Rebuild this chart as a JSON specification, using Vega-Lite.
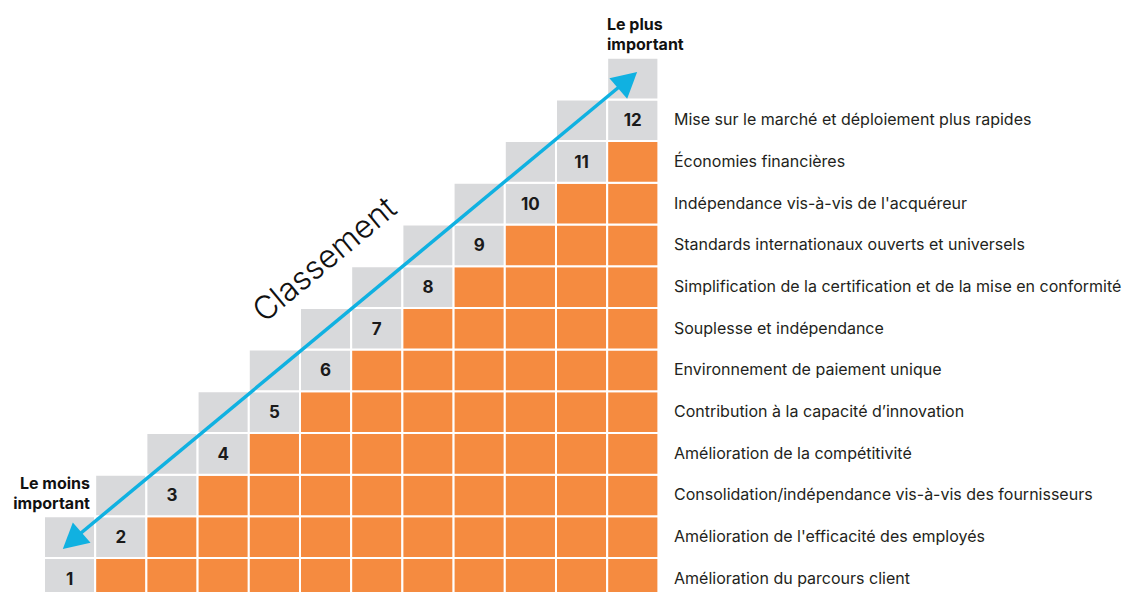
{
  "$schema": "https://vega.github.io/schema/vega-lite/v6.json",
  "width": 1130,
  "height": 600,
  "autosize": "none",
  "padding": 0,
  "background": "white",
  "config": {"view": {"stroke": null}, "font": "Inter"},
  "datasets": {
    "cells": [
      {"c":1,"r":1,"t":"g"},{"c":1,"r":2,"t":"g"},
      {"c":2,"r":1,"t":"o"},{"c":2,"r":2,"t":"g"},{"c":2,"r":3,"t":"g"},
      {"c":3,"r":1,"t":"o"},{"c":3,"r":2,"t":"o"},{"c":3,"r":3,"t":"g"},{"c":3,"r":4,"t":"g"},
      {"c":4,"r":1,"t":"o"},{"c":4,"r":2,"t":"o"},{"c":4,"r":3,"t":"o"},{"c":4,"r":4,"t":"g"},{"c":4,"r":5,"t":"g"},
      {"c":5,"r":1,"t":"o"},{"c":5,"r":2,"t":"o"},{"c":5,"r":3,"t":"o"},{"c":5,"r":4,"t":"o"},{"c":5,"r":5,"t":"g"},{"c":5,"r":6,"t":"g"},
      {"c":6,"r":1,"t":"o"},{"c":6,"r":2,"t":"o"},{"c":6,"r":3,"t":"o"},{"c":6,"r":4,"t":"o"},{"c":6,"r":5,"t":"o"},{"c":6,"r":6,"t":"g"},{"c":6,"r":7,"t":"g"},
      {"c":7,"r":1,"t":"o"},{"c":7,"r":2,"t":"o"},{"c":7,"r":3,"t":"o"},{"c":7,"r":4,"t":"o"},{"c":7,"r":5,"t":"o"},{"c":7,"r":6,"t":"o"},{"c":7,"r":7,"t":"g"},{"c":7,"r":8,"t":"g"},
      {"c":8,"r":1,"t":"o"},{"c":8,"r":2,"t":"o"},{"c":8,"r":3,"t":"o"},{"c":8,"r":4,"t":"o"},{"c":8,"r":5,"t":"o"},{"c":8,"r":6,"t":"o"},{"c":8,"r":7,"t":"o"},{"c":8,"r":8,"t":"g"},{"c":8,"r":9,"t":"g"},
      {"c":9,"r":1,"t":"o"},{"c":9,"r":2,"t":"o"},{"c":9,"r":3,"t":"o"},{"c":9,"r":4,"t":"o"},{"c":9,"r":5,"t":"o"},{"c":9,"r":6,"t":"o"},{"c":9,"r":7,"t":"o"},{"c":9,"r":8,"t":"o"},{"c":9,"r":9,"t":"g"},{"c":9,"r":10,"t":"g"},
      {"c":10,"r":1,"t":"o"},{"c":10,"r":2,"t":"o"},{"c":10,"r":3,"t":"o"},{"c":10,"r":4,"t":"o"},{"c":10,"r":5,"t":"o"},{"c":10,"r":6,"t":"o"},{"c":10,"r":7,"t":"o"},{"c":10,"r":8,"t":"o"},{"c":10,"r":9,"t":"o"},{"c":10,"r":10,"t":"g"},{"c":10,"r":11,"t":"g"},
      {"c":11,"r":1,"t":"o"},{"c":11,"r":2,"t":"o"},{"c":11,"r":3,"t":"o"},{"c":11,"r":4,"t":"o"},{"c":11,"r":5,"t":"o"},{"c":11,"r":6,"t":"o"},{"c":11,"r":7,"t":"o"},{"c":11,"r":8,"t":"o"},{"c":11,"r":9,"t":"o"},{"c":11,"r":10,"t":"o"},{"c":11,"r":11,"t":"g"},{"c":11,"r":12,"t":"g"},
      {"c":12,"r":1,"t":"o"},{"c":12,"r":2,"t":"o"},{"c":12,"r":3,"t":"o"},{"c":12,"r":4,"t":"o"},{"c":12,"r":5,"t":"o"},{"c":12,"r":6,"t":"o"},{"c":12,"r":7,"t":"o"},{"c":12,"r":8,"t":"o"},{"c":12,"r":9,"t":"o"},{"c":12,"r":10,"t":"o"},{"c":12,"r":11,"t":"o"},{"c":12,"r":12,"t":"g"},{"c":12,"r":13,"t":"g"}
    ],
    "ranks": [
      {"c":1},{"c":2},{"c":3},{"c":4},{"c":5},{"c":6},{"c":7},{"c":8},{"c":9},{"c":10},{"c":11},{"c":12}
    ],
    "labels": [
      {"r":1,"label":"Amélioration du parcours client"},
      {"r":2,"label":"Amélioration de l'efficacité des employés"},
      {"r":3,"label":"Consolidation/indépendance vis-à-vis des fournisseurs"},
      {"r":4,"label":"Amélioration de la compétitivité"},
      {"r":5,"label":"Contribution à la capacité d’innovation"},
      {"r":6,"label":"Environnement de paiement unique"},
      {"r":7,"label":"Souplesse et indépendance"},
      {"r":8,"label":"Simplification de la certification et de la mise en conformité"},
      {"r":9,"label":"Standards internationaux ouverts et universels"},
      {"r":10,"label":"Indépendance vis-à-vis de l'acquéreur"},
      {"r":11,"label":"Économies financières"},
      {"r":12,"label":"Mise sur le marché et déploiement plus rapides"}
    ]
  },
  "layer": [
    {
      "data": {"name": "cells"},
      "mark": {"type": "rect", "width": 51.2, "height": 41.69, "stroke": "white", "strokeWidth": 2},
      "encoding": {
        "x": {"field": "c", "type": "quantitative", "scale": {"domain": [-0.359, 21.711], "nice": false, "zero": false}, "axis": null},
        "y": {"field": "r", "type": "quantitative", "scale": {"domain": [0.4929, 14.885], "nice": false, "zero": false}, "axis": null},
        "color": {"field": "t", "type": "nominal", "scale": {"domain": ["o", "g"], "range": ["#F58B40", "#D8D9DB"]}, "legend": null}
      }
    },
    {
      "data": {"name": "ranks"},
      "mark": {"type": "text", "font": "Inter", "fontWeight": "bold", "fontSize": 17, "color": "#1a1a1a", "align": "center", "baseline": "middle", "dy": 1},
      "encoding": {
        "x": {"field": "c", "type": "quantitative", "scale": {"domain": [-0.359, 21.711], "nice": false, "zero": false}, "axis": null},
        "y": {"field": "c", "type": "quantitative", "scale": {"domain": [0.4929, 14.885], "nice": false, "zero": false}, "axis": null},
        "text": {"field": "c", "type": "quantitative"}
      }
    },
    {
      "data": {"name": "labels"},
      "mark": {"type": "text", "font": "Inter", "fontSize": 16, "color": "#231F20", "align": "left", "baseline": "middle"},
      "encoding": {
        "x": {"datum": 12.805, "type": "quantitative", "scale": {"domain": [-0.359, 21.711], "nice": false, "zero": false}, "axis": null},
        "y": {"field": "r", "type": "quantitative", "scale": {"domain": [0.4929, 14.885], "nice": false, "zero": false}, "axis": null},
        "text": {"field": "label", "type": "nominal"}
      }
    },
    {
      "data": {"values": [{"x": 1.105, "y": 1.98}, {"x": 11.848, "y": 12.918}]},
      "mark": {"type": "line", "color": "#10B1E1", "strokeWidth": 3.5},
      "encoding": {
        "x": {"field": "x", "type": "quantitative", "scale": {"domain": [-0.359, 21.711], "nice": false, "zero": false}, "axis": null},
        "y": {"field": "y", "type": "quantitative", "scale": {"domain": [0.4929, 14.885], "nice": false, "zero": false}, "axis": null}
      }
    },
    {
      "data": {"values": [{"x": 11.901, "y": 12.959}]},
      "mark": {"type": "point", "shape": "M0,-1L1.08,1L-1.08,1Z", "filled": true, "opacity": 1, "size": 625, "angle": 49, "color": "#10B1E1"},
      "encoding": {
        "x": {"field": "x", "type": "quantitative", "scale": {"domain": [-0.359, 21.711], "nice": false, "zero": false}, "axis": null},
        "y": {"field": "y", "type": "quantitative", "scale": {"domain": [0.4929, 14.885], "nice": false, "zero": false}, "axis": null}
      }
    },
    {
      "data": {"values": [{"x": 1.052, "y": 1.913}]},
      "mark": {"type": "point", "shape": "M0,-1L1.08,1L-1.08,1Z", "filled": true, "opacity": 1, "size": 625, "angle": 229, "color": "#10B1E1"},
      "encoding": {
        "x": {"field": "x", "type": "quantitative", "scale": {"domain": [-0.359, 21.711], "nice": false, "zero": false}, "axis": null},
        "y": {"field": "y", "type": "quantitative", "scale": {"domain": [0.4929, 14.885], "nice": false, "zero": false}, "axis": null}
      }
    },
    {
      "data": {"values": [{"x": 5.988, "y": 8.648, "t": "Classement"}]},
      "mark": {"type": "text", "font": "Inter", "fontWeight": 300, "fontSize": 32, "color": "#111111", "align": "center", "baseline": "middle", "angle": 320.3},
      "encoding": {
        "x": {"field": "x", "type": "quantitative", "scale": {"domain": [-0.359, 21.711], "nice": false, "zero": false}, "axis": null},
        "y": {"field": "y", "type": "quantitative", "scale": {"domain": [0.4929, 14.885], "nice": false, "zero": false}, "axis": null},
        "text": {"field": "t", "type": "nominal"}
      }
    },
    {
      "data": {"values": [{"x": 1.398, "y": 3.155, "t": "Le moins\nimportant"}]},
      "mark": {"type": "text", "font": "Inter", "fontWeight": "bold", "fontSize": 16, "color": "#111111", "align": "right", "baseline": "alphabetic", "lineBreak": "\n", "lineHeight": 20},
      "encoding": {
        "x": {"field": "x", "type": "quantitative", "scale": {"domain": [-0.359, 21.711], "nice": false, "zero": false}, "axis": null},
        "y": {"field": "y", "type": "quantitative", "scale": {"domain": [0.4929, 14.885], "nice": false, "zero": false}, "axis": null},
        "text": {"field": "t", "type": "nominal"}
      }
    },
    {
      "data": {"values": [{"x": 11.496, "y": 14.165, "t": "Le plus\nimportant"}]},
      "mark": {"type": "text", "font": "Inter", "fontWeight": "bold", "fontSize": 16, "color": "#111111", "align": "left", "baseline": "alphabetic", "lineBreak": "\n", "lineHeight": 20},
      "encoding": {
        "x": {"field": "x", "type": "quantitative", "scale": {"domain": [-0.359, 21.711], "nice": false, "zero": false}, "axis": null},
        "y": {"field": "y", "type": "quantitative", "scale": {"domain": [0.4929, 14.885], "nice": false, "zero": false}, "axis": null},
        "text": {"field": "t", "type": "nominal"}
      }
    }
  ]
}
